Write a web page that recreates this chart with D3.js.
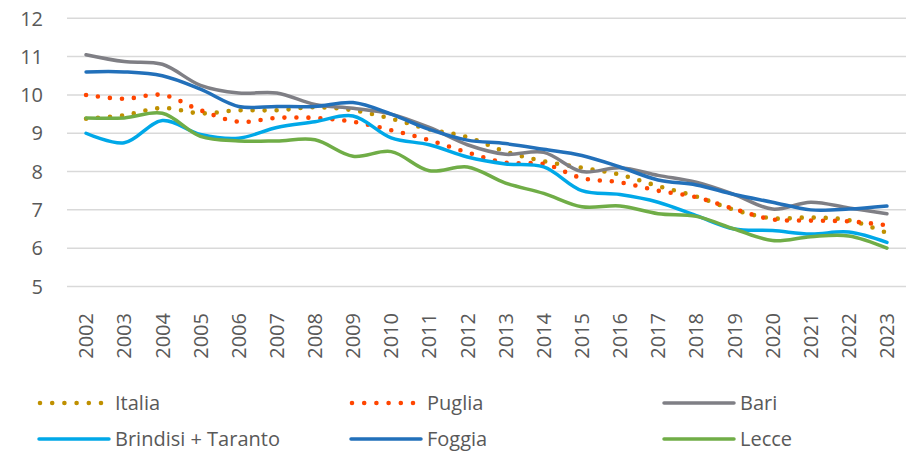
<!DOCTYPE html>
<html>
<head>
<meta charset="utf-8">
<script src="https://cdn.jsdelivr.net/npm/d3@7"></script>
<style>
  html, body { margin: 0; padding: 0; background: #ffffff; }
  svg { display: block; }
  text { font-family: "Open Sans", sans-serif; fill: #595959; }
</style>
</head>
<body>
<div id="chart"></div>
<script>
// ---- Data ----
const years = ["2002","2003","2004","2005","2006","2007","2008","2009","2010","2011","2012","2013","2014","2015","2016","2017","2018","2019","2020","2021","2022","2023"];
const yTicks = [5, 6, 7, 8, 9, 10, 11, 12];

const italia   = [9.38, 9.47, 9.66, 9.52, 9.6, 9.6, 9.68, 9.6, 9.38, 9.1, 8.9, 8.52, 8.27, 8.1, 7.92, 7.62, 7.35, 7.0, 6.78, 6.8, 6.73, 6.4];
const puglia   = [10.0, 9.9, 10.0, 9.6, 9.3, 9.4, 9.4, 9.3, 9.08, 8.82, 8.5, 8.23, 8.2, 7.83, 7.72, 7.5, 7.33, 7.02, 6.75, 6.72, 6.7, 6.6];
const bari     = [11.05, 10.87, 10.8, 10.25, 10.05, 10.05, 9.75, 9.65, 9.5, 9.15, 8.7, 8.45, 8.5, 8.0, 8.1, 7.9, 7.72, 7.4, 7.02, 7.2, 7.05, 6.9];
const brindisi = [9.0, 8.75, 9.33, 8.97, 8.87, 9.15, 9.3, 9.45, 8.88, 8.7, 8.38, 8.2, 8.12, 7.5, 7.4, 7.2, 6.85, 6.5, 6.46, 6.37, 6.42, 6.15];
const foggia   = [10.6, 10.6, 10.5, 10.15, 9.7, 9.7, 9.7, 9.8, 9.5, 9.1, 8.82, 8.73, 8.58, 8.42, 8.12, 7.78, 7.65, 7.4, 7.2, 7.0, 7.02, 7.1];
const lecce    = [9.4, 9.4, 9.52, 8.92, 8.8, 8.8, 8.83, 8.4, 8.52, 8.02, 8.12, 7.7, 7.43, 7.08, 7.1, 6.9, 6.83, 6.5, 6.2, 6.3, 6.32, 6.0];

const seriesNames = ["Italia", "Puglia", "Bari", "Brindisi + Taranto", "Foggia", "Lecce"];
const seriesValues = [italia, puglia, bari, brindisi, foggia, lecce];
const seriesColors = ["#BF9000", "#FF4500", "#7F7F85", "#00A8E8", "#2270BA", "#70AD47"];
const seriesDotted = [true, true, false, false, false, false];

// ---- Layout ----
const W = 911, H = 451;
const svg = d3.select("#chart").append("svg").attr("width", W).attr("height", H);

const x = d3.scaleBand().domain(years).range([67, 906]).padding(0);
const y = d3.scaleLinear().domain([5, 12]).range([286.5, 18.3]);

// gridlines
svg.append("g").selectAll("line").data(yTicks).join("line")
  .attr("x1", 67).attr("x2", 906)
  .attr("y1", d => y(d)).attr("y2", d => y(d))
  .attr("stroke", "#D9D9D9").attr("stroke-width", 1.5);

// y axis labels
svg.append("g").selectAll("text").data(yTicks).join("text")
  .attr("x", 43).attr("y", d => y(d)).attr("dy", "0.36em")
  .attr("text-anchor", "end").attr("font-size", 20)
  .text(d => d);

// x axis labels (rotated)
svg.append("g").selectAll("text").data(years).join("text")
  .attr("transform", d => `translate(${x(d) + x.bandwidth() / 2},313) rotate(-90)`)
  .attr("text-anchor", "end").attr("dy", "0.36em").attr("font-size", 20)
  .text(d => d);

// lines
const line = d3.line()
  .x((d, i) => x(years[i]) + x.bandwidth() / 2)
  .y(d => y(d))
  .curve(d3.curveCatmullRom.alpha(0.5));

seriesValues.forEach((vals, k) => {
  const p = svg.append("path")
    .attr("d", line(vals))
    .attr("fill", "none")
    .attr("stroke", seriesColors[k])
    .attr("stroke-linecap", "round")
    .attr("stroke-linejoin", "round");
  if (seriesDotted[k]) {
    p.attr("stroke-width", 4.6).attr("stroke-dasharray", "0 12");
  } else {
    p.attr("stroke-width", 3.5);
  }
});

// legend
const legCols = [39, 351, 664];
const legRows = [403, 439];
seriesNames.forEach((name, k) => {
  const cx = legCols[k % 3], cy = legRows[Math.floor(k / 3)];
  const g = svg.append("g");
  const l = g.append("line")
    .attr("x1", seriesDotted[k] ? cx + 1 : cx).attr("x2", seriesDotted[k] ? cx + 62 : cx + 70)
    .attr("y1", cy).attr("y2", cy)
    .attr("stroke", seriesColors[k])
    .attr("stroke-linecap", "round");
  if (seriesDotted[k]) {
    l.attr("stroke-width", 4.6).attr("stroke-dasharray", "0 12.2");
  } else {
    l.attr("stroke-width", 3.5);
  }
  g.append("text")
    .attr("x", cx + 76).attr("y", cy).attr("dy", "0.36em")
    .attr("font-size", 20)
    .text(name);
});
</script>
</body>
</html>
